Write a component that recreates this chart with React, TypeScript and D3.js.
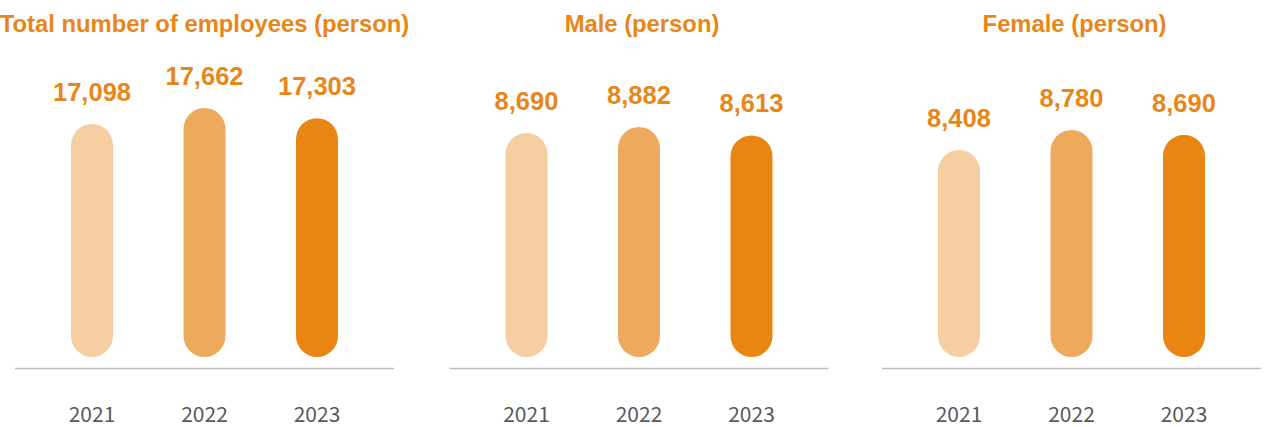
import React from "react";
import * as d3 from "d3";

const years = ["2021", "2022", "2023"];
const titles = ["Total number of employees (person)", "Male (person)", "Female (person)"];
const totalValues = [17098, 17662, 17303];
const maleValues = [8690, 8882, 8613];
const femaleValues = [8408, 8780, 8690];
const seriesValues = [totalValues, maleValues, femaleValues];
// lower end of each panel's value axis
const axisMins = [8885, 1520, 4560];
const axisTops = [108, 127, 130];
const barColors = ["#F5CFA2", "#EEAA5C", "#E88513"];

const W = 1267;
const H = 427;
const panelOffsets = [0, 434.5, 867];
const lineX0 = 15;
const lineX1 = 394;
const barBottom = 357;
const lineY = 368.5;
const orange = "#E8861A";

export default function App() {
  const fmt = d3.format(",");
  return (
    <svg
      width={W}
      height={H}
      style={{ position: "absolute", left: 0, top: 0, background: "#fff" }}
    >
      {seriesValues.map((vals, pi) => {
        const ox = panelOffsets[pi];
        const x = d3
          .scaleBand<string>()
          .domain(years)
          .range([lineX0, lineX1])
          .paddingInner(0.627)
          .paddingOuter(0.498);
        const maxV = d3.max(vals) as number;
        const y = d3
          .scaleLinear()
          .domain([axisMins[pi], maxV])
          .range([barBottom, axisTops[pi]]);
        const bw = x.bandwidth();
        const cx = (lineX0 + lineX1) / 2;
        return (
          <g key={pi} transform={`translate(${ox},0)`}>
            <text
              x={cx + (pi === 0 ? 0 : 3)}
              y={31.5}
              textAnchor="middle"
              fontFamily="Liberation Sans, Arial, sans-serif"
              fontWeight="bold"
              fontSize={23.8}
              fill={orange}
            >
              {titles[pi]}
            </text>
            {vals.map((v, i) => {
              const bx = x(years[i]) as number;
              const top = y(v);
              return (
                <g key={i}>
                  <rect
                    x={bx}
                    y={top}
                    width={bw}
                    height={barBottom - top}
                    rx={bw / 2}
                    ry={bw / 2}
                    fill={barColors[i]}
                  />
                  <text
                    x={bx + bw / 2}
                    y={top - 23}
                    textAnchor="middle"
                    fontFamily="Liberation Sans, Arial, sans-serif"
                    fontWeight="bold"
                    fontSize={25.5}
                    fill={orange}
                  >
                    {fmt(v)}
                  </text>
                  <text
                    x={bx + bw / 2}
                    y={421.5}
                    textAnchor="middle"
                    fontFamily="Noto Sans CJK SC, Noto Sans, sans-serif"
                    fontSize={21}
                    fill="#595959"
                  >
                    {years[i]}
                  </text>
                </g>
              );
            })}
            <line
              x1={lineX0}
              x2={lineX1}
              y1={lineY}
              y2={lineY}
              stroke="#BDBDBD"
              strokeWidth={1.5}
            />
          </g>
        );
      })}
    </svg>
  );
}
